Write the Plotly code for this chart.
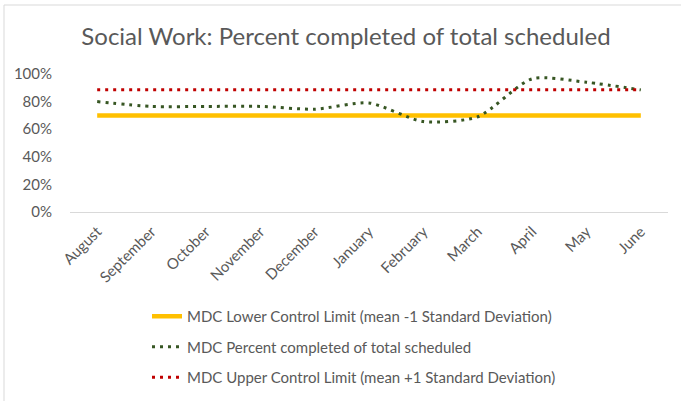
import plotly.graph_objects as go

months = ["August", "September", "October", "November", "December", "January",
          "February", "March", "April", "May", "June"]
lower_limit = [0.70] * 11
percent_completed = [0.80, 0.765, 0.765, 0.765, 0.745, 0.79, 0.655, 0.69, 0.965, 0.94, 0.885]
upper_limit = [0.885] * 11

names = ["MDC Lower Control Limit (mean -1 Standard Deviation)",
         "MDC Percent completed of total scheduled",
         "MDC Upper Control Limit (mean +1 Standard Deviation)"]

FONT = "Lato, Carlito, Calibri, sans-serif"
GRAY = "#595959"

fig = go.Figure()
fig.add_trace(go.Scatter(x=months, y=lower_limit, mode="lines", name=names[0],
                         legendgroup="a",
                         line=dict(color="#FFC000", width=4.5)))
fig.add_trace(go.Scatter(x=months, y=percent_completed, mode="lines", name=names[1],
                         legendgroup="b",
                         line=dict(color="#375623", width=3, dash="3px,5px",
                                   shape="spline", smoothing=0.7)))
fig.add_trace(go.Scatter(x=months, y=upper_limit, mode="lines", name=names[2],
                         legendgroup="c",
                         line=dict(color="#C00000", width=3, dash="3px,5px")))

fig.update_layout(
    width=681, height=401,
    margin=dict(l=70, r=13, t=74, b=189, autoexpand=False),
    paper_bgcolor="white", plot_bgcolor="white",
    font=dict(family=FONT, color=GRAY, size=14),
    title=dict(text="Social Work: Percent completed of total scheduled",
               x=346/681, xanchor="center", y=1-37/401, yanchor="middle",
               font=dict(family=FONT, size=24, color=GRAY)),
    showlegend=True,
    legend=dict(x=(147-70)/598, xanchor="left", y=(212-300)/138, yanchor="top",
                orientation="v", traceorder="grouped", tracegroupgap=8,
                font=dict(family=FONT, size=15, color=GRAY),
                bgcolor="rgba(0,0,0,0)"),
    xaxis=dict(type="category", range=[-0.5, 10.5], showgrid=False,
               showline=True, linecolor="#D9D9D9", linewidth=1, automargin=False,
               ticks="", tickangle=-45, tickfont=dict(family=FONT, size=15, color=GRAY),
               ticklabelstandoff=4, zeroline=False, fixedrange=True),
    yaxis=dict(range=[0, 1], tickvals=[0, 0.2, 0.4, 0.6, 0.8, 1.0], automargin=False,
               tickformat=".0%", showgrid=False, showline=False, zeroline=False,
               ticks="", tickfont=dict(family=FONT, size=15, color=GRAY),
               ticklabelstandoff=17),
    shapes=[dict(type="rect", xref="paper", yref="paper",
                 x0=(4-70)/598, x1=1.2, y0=-2.0, y1=(212-5)/138,
                 line=dict(color="#D9D9D9", width=1), fillcolor="rgba(0,0,0,0)",
                 layer="below")],
)

fig.write_html("out.html", config={"displayModeBar": False},
               post_script="document.body.style.margin='0';")
